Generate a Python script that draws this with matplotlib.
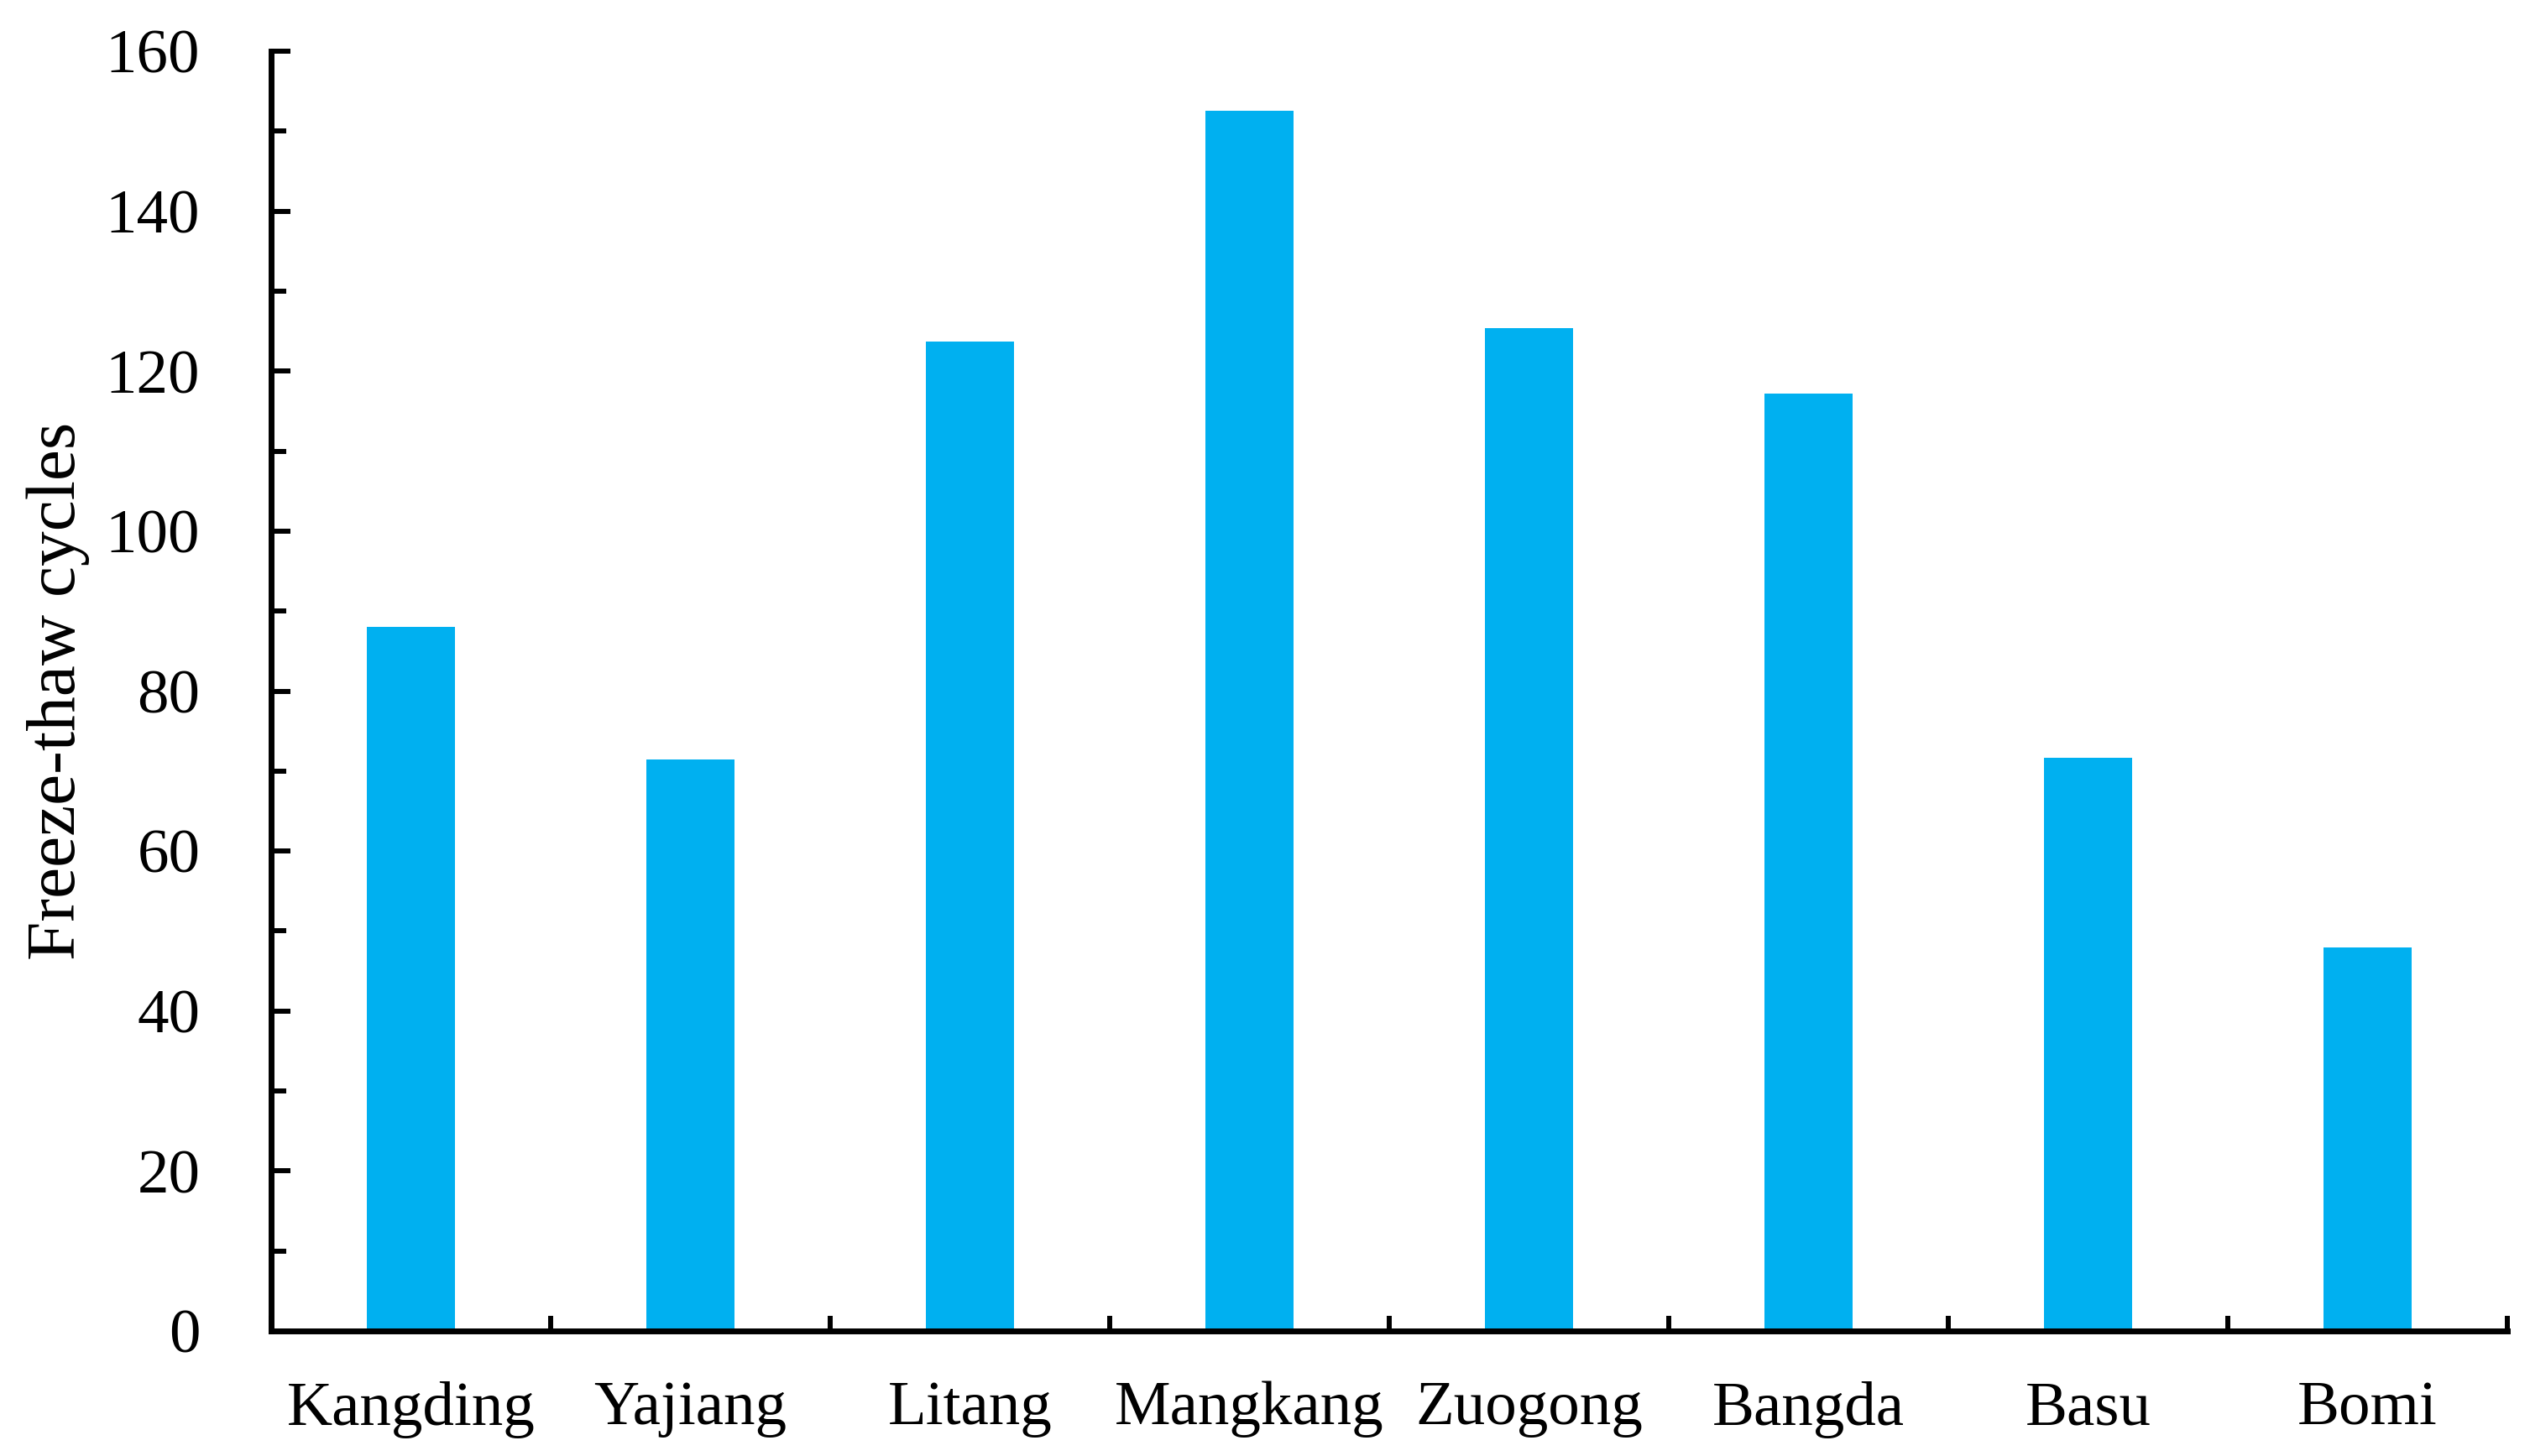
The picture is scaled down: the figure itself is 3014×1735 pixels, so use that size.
import numpy as np
import matplotlib
matplotlib.use("Agg")
import matplotlib.pyplot as plt
from matplotlib.ticker import MultipleLocator

categories = ["Kangding", "Yajiang", "Litang", "Mangkang", "Zuogong", "Bangda", "Basu", "Bomi"]
cycles = [88.0, 71.4, 123.7, 152.5, 125.4, 117.2, 71.7, 47.9]
ylabel = "Freeze-thaw cycles"
bar_color = "#00B0F0"

plt.rcParams["font.family"] = ["Liberation Serif", "DejaVu Serif"]

fig = plt.figure(figsize=(30.14, 17.35), dpi=100)
ax = fig.add_axes([323/3014, 1 - 1586/1735, (2987-323)/3014, (1586-61)/1735])

x = np.arange(len(categories))
ax.bar(x, cycles, width=0.315, color=bar_color, zorder=2)

ax.set_xlim(-0.5, len(categories) - 0.5)
ax.set_ylim(0, 160)

for s in ["top", "right"]:
    ax.spines[s].set_visible(False)
for s in ["left", "bottom"]:
    ax.spines[s].set_linewidth(5)
    ax.spines[s].set_zorder(3)

# x ticks: major at boundaries (no labels), minor at centres (labels)
ax.set_xticks(np.arange(-0.5, len(categories), 1.0))
ax.set_xticklabels([])
ax.set_xticks(x, minor=True)
ax.set_xticklabels(categories, minor=True)
ax.tick_params(axis="x", which="major", direction="in", length=13, width=4.3, labelsize=0)
ax.tick_params(axis="x", which="minor", direction="in", length=9.5, width=4.3,
               labelsize=54, pad=43)

ax.yaxis.set_major_locator(MultipleLocator(20))
ax.yaxis.set_minor_locator(MultipleLocator(10))
ax.tick_params(axis="y", which="major", direction="in", length=16.5, width=4.3,
               labelsize=54, pad=61)
ax.tick_params(axis="y", which="minor", direction="in", length=13, width=4.3)

ax.set_ylabel(ylabel, fontsize=60)
ax.yaxis.set_label_coords(-0.081, 0.5)

fig.savefig("out.png", dpi=100, facecolor="white")
